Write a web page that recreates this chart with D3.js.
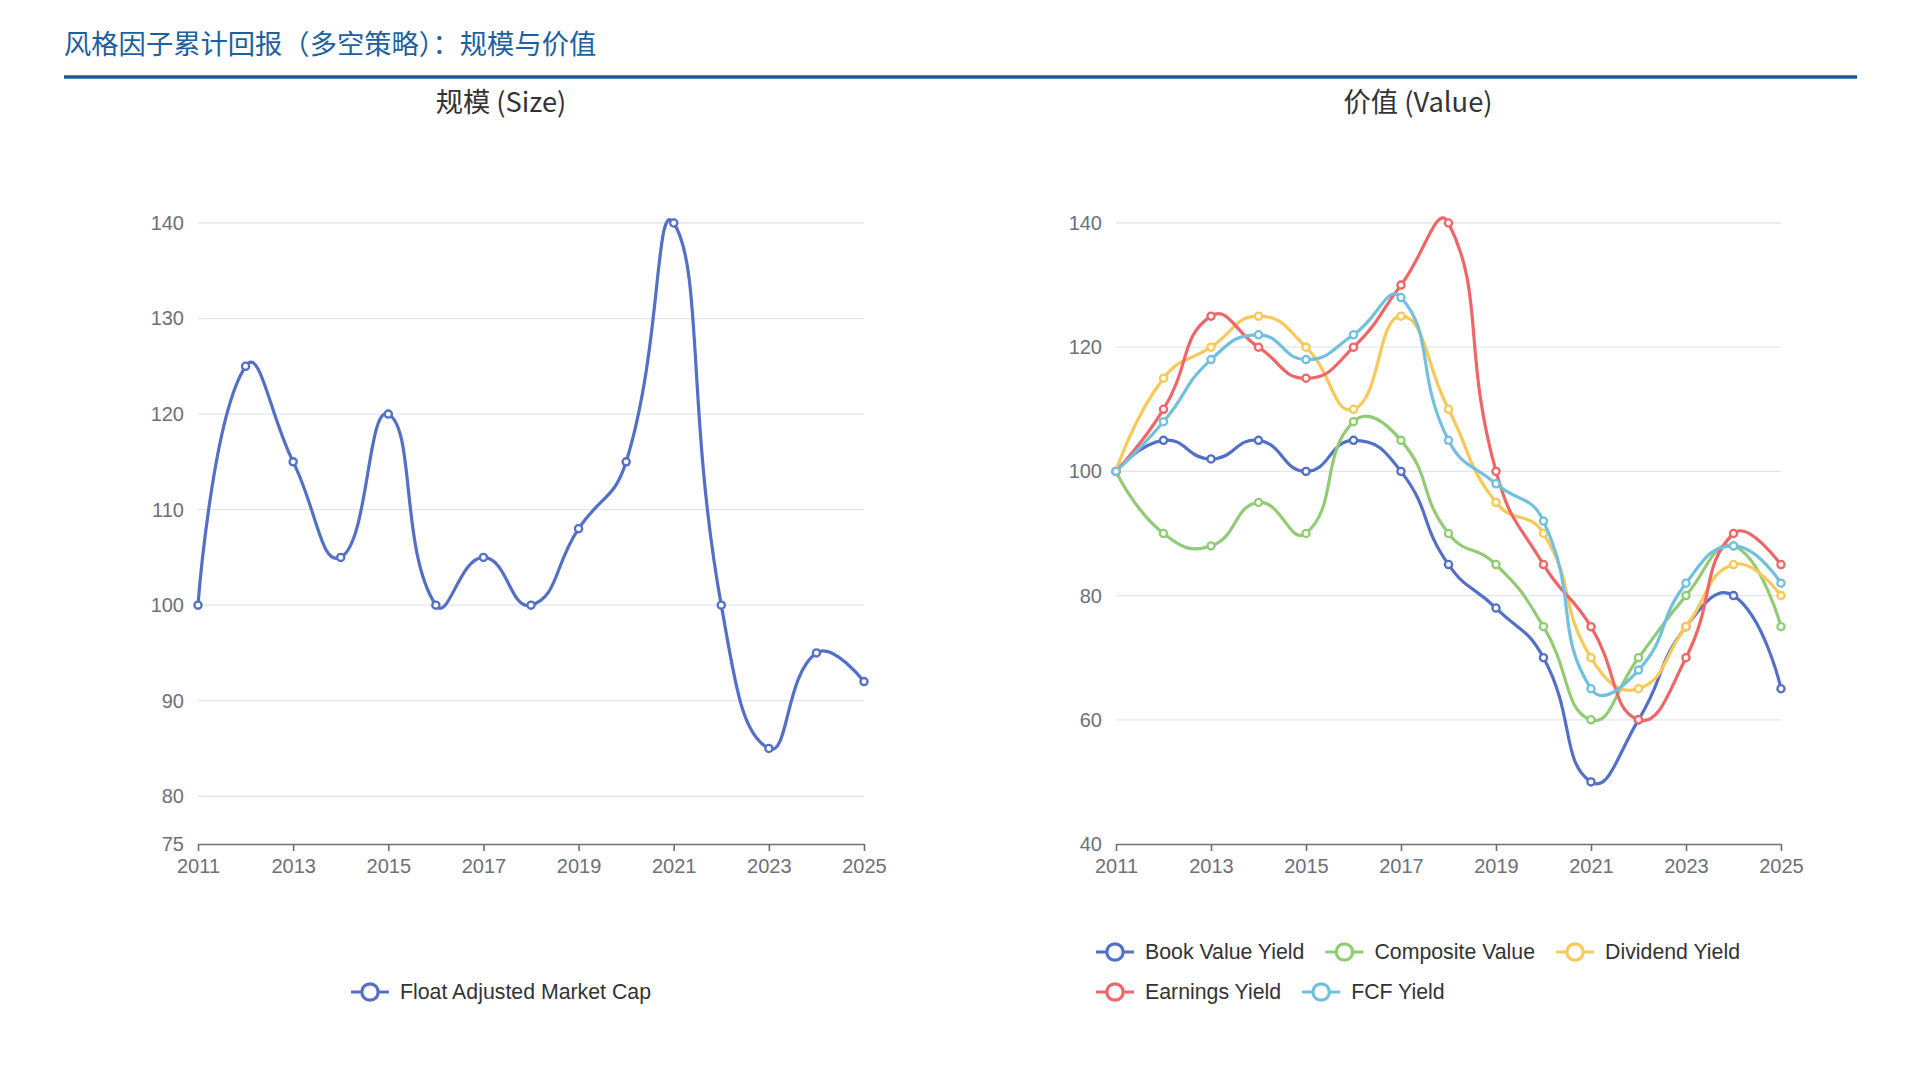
<!DOCTYPE html>
<html>
<head>
<meta charset="utf-8">
<script src="https://cdn.jsdelivr.net/npm/d3@7"></script>
<style>
  body { margin: 0; background: #fff; }
  svg { display: block; }
  text { font-family: "Liberation Sans", Arial, "Noto Sans CJK SC", sans-serif; }
  .cjk { font-family: "Noto Sans CJK SC", "Liberation Sans", sans-serif; }
</style>
</head>
<body>
<svg id="chart" width="1920" height="1080"></svg>
<script>
/* data */
var years = [2011, 2012, 2013, 2014, 2015, 2016, 2017, 2018, 2019, 2020, 2021, 2022, 2023, 2024, 2025];
var xTickYears = [2011, 2013, 2015, 2017, 2019, 2021, 2023, 2025];

var floatAdjustedMarketCap = [100, 125, 115, 105, 120, 100, 105, 100, 108, 115, 140, 100, 85, 95, 92];

var bookValueYield = [100, 105, 102, 105, 100, 105, 100, 85, 78, 70, 50, 60, 75, 80, 65];
var compositeValue = [100, 90, 88, 95, 90, 108, 105, 90, 85, 75, 60, 70, 80, 88, 75];
var dividendYield  = [100, 115, 120, 125, 120, 110, 125, 110, 95, 90, 70, 65, 75, 85, 80];
var earningsYield  = [100, 110, 125, 120, 115, 120, 130, 140, 100, 85, 75, 60, 70, 90, 85];
var fcfYield       = [100, 108, 118, 122, 118, 122, 128, 105, 98, 92, 65, 68, 82, 88, 82];

var sizeTicks  = [75, 80, 90, 100, 110, 120, 130, 140];
var valueTicks = [40, 60, 80, 100, 120, 140];

var palette = ["#5470c6", "#91cc75", "#fac858", "#ee6666", "#73c0de"];

var sizeSeries = [
  {name: "Float Adjusted Market Cap", values: floatAdjustedMarketCap, color: palette[0]}
];
var valueSeries = [
  {name: "Book Value Yield", values: bookValueYield, color: palette[0]},
  {name: "Composite Value", values: compositeValue, color: palette[1]},
  {name: "Dividend Yield", values: dividendYield, color: palette[2]},
  {name: "Earnings Yield", values: earningsYield, color: palette[3]},
  {name: "FCF Yield", values: fcfYield, color: palette[4]}
];

// smoothing the way echarts does it (smooth: true -> 0.5)
function EchartsSmooth(context) { this._context = context; }
EchartsSmooth.prototype = {
  areaStart: function() { this._line = 0; },
  areaEnd: function() { this._line = NaN; },
  lineStart: function() { this._pts = []; },
  point: function(x, y) { this._pts.push([+x, +y]); },
  lineEnd: function() {
    var p = this._pts, c = this._context, s = 0.5;
    if (!p.length) return;
    c.moveTo(p[0][0], p[0][1]);
    var cx = p[0][0], cy = p[0][1];
    for (var i = 1; i < p.length; i++) {
      var x = p[i][0], y = p[i][1], prev = p[i - 1], next = p[i + 1];
      var vx = 0, vy = 0, r = 0.5, nx = x, ny = y;
      if (next) {
        vx = next[0] - prev[0];
        vy = next[1] - prev[1];
        var l0 = Math.hypot(x - prev[0], y - prev[1]),
            l1 = Math.hypot(next[0] - x, next[1] - y);
        r = l1 / (l0 + l1);
        nx = x - vx * s * (1 - r);
        ny = y - vy * s * (1 - r);
      }
      c.bezierCurveTo(cx, cy, nx, ny, x, y);
      cx = x + vx * s * r;
      cy = y + vy * s * r;
    }
  }
};
function echartsSmooth(context) { return new EchartsSmooth(context); }

var svg = d3.select("#chart");

/* header */
svg.append("text")
  .attr("class", "cjk")
  .attr("x", 64).attr("y", 42)
  .attr("dominant-baseline", "central")
  .attr("fill", "#1e5f9e")
  .style("font-size", "27.3px")
  .text("风格因子累计回报（多空策略）：规模与价值");

svg.append("line")
  .attr("x1", 64).attr("x2", 1857)
  .attr("y1", 77).attr("y2", 77)
  .attr("stroke", "#1b5a96").attr("stroke-width", 3.5);

function drawPanel(opt) {
  var g = svg.append("g");

  var x = d3.scalePoint().domain(years).range([opt.x0, opt.x1]).padding(0);
  var y = d3.scaleLinear().domain(opt.domain).range([844, 223]);

  g.append("text")
    .attr("class", "cjk")
    .attr("x", opt.center).attr("y", 100)
    .attr("text-anchor", "middle")
    .attr("dominant-baseline", "central")
    .attr("fill", "#333")
    .style("font-size", "27.3px")
    .text(opt.title);

  // grid lines
  g.append("g").selectAll("line")
    .data(opt.ticks.filter(function(d) { return d > opt.domain[0]; }))
    .enter().append("line")
    .attr("x1", opt.x0).attr("x2", opt.x1)
    .attr("y1", function(d) { return y(d); })
    .attr("y2", function(d) { return y(d); })
    .attr("stroke", "#e0e6f1").attr("stroke-width", 1.3);

  var yAxis = g.append("g")
    .attr("transform", "translate(" + opt.x0 + ",0)")
    .call(d3.axisLeft(y).tickValues(opt.ticks).tickSize(0).tickPadding(14));
  yAxis.select(".domain").remove();
  yAxis.selectAll("text")
    .attr("fill", "#6e7079")
    .style("font-size", "20px")
    .style("font-family", "'Liberation Sans', Arial, sans-serif");

  var xAxis = g.append("g")
    .attr("transform", "translate(0,844)")
    .call(d3.axisBottom(x).tickValues(xTickYears).tickSizeInner(7).tickSizeOuter(0).tickPadding(8));
  xAxis.select(".domain").attr("stroke", "#6e7079").attr("stroke-width", 1.6);
  xAxis.selectAll(".tick line").attr("stroke", "#6e7079").attr("stroke-width", 1.6);
  xAxis.selectAll("text")
    .attr("fill", "#6e7079")
    .style("font-size", "20px")
    .style("font-family", "'Liberation Sans', Arial, sans-serif");

  var line = d3.line()
    .x(function(d, i) { return x(years[i]); })
    .y(function(d) { return y(d); })
    .curve(echartsSmooth);

  opt.series.forEach(function(s) {
    var sg = g.append("g");
    sg.append("path")
      .attr("d", line(s.values))
      .attr("fill", "none")
      .attr("stroke", s.color)
      .attr("stroke-width", 3.2)
      .attr("stroke-linejoin", "round");
    sg.selectAll("circle")
      .data(s.values).enter().append("circle")
      .attr("cx", function(d, i) { return x(years[i]); })
      .attr("cy", function(d) { return y(d); })
      .attr("r", 3.6)
      .attr("fill", "#fff")
      .attr("stroke", s.color)
      .attr("stroke-width", 2.3);
  });

  // legend, wrapped into rows, centred on the panel
  var leg = g.append("g");
  var rowsG = [];
  var iconW = 38, iconGap = 11, itemGap = 21, rowH = 40;
  var maxW = 0;
  opt.legendRows.forEach(function(row) {
    var rg = leg.append("g");
    var cur = 0;
    row.forEach(function(idx) {
      var s = opt.series[idx];
      var it = rg.append("g").attr("transform", "translate(" + cur + ",0)");
      it.append("line")
        .attr("x1", 0).attr("x2", iconW)
        .attr("stroke", s.color).attr("stroke-width", 3.2);
      it.append("circle")
        .attr("cx", iconW / 2).attr("r", 8.2)
        .attr("fill", "#fff").attr("stroke", s.color).attr("stroke-width", 3.2);
      var t = it.append("text")
        .attr("x", iconW + iconGap)
        .attr("dominant-baseline", "central")
        .attr("fill", "#333")
        .style("font-size", "21.3px")
        .text(s.name);
      cur += iconW + iconGap + t.node().getComputedTextLength() + itemGap;
    });
    cur -= itemGap;
    maxW = Math.max(maxW, cur);
    rowsG.push(rg);
  });
  var left = opt.center - maxW / 2;
  var top = opt.legendY - (opt.legendRows.length - 1) * rowH;
  rowsG.forEach(function(rg, ri) {
    rg.attr("transform", "translate(" + left + "," + (top + ri * rowH) + ")");
  });
}

drawPanel({
  title: "规模 (Size)",
  center: 501,
  x0: 198, x1: 864,
  domain: [75, 140],
  ticks: sizeTicks,
  series: sizeSeries,
  legendRows: [[0]],
  legendY: 992
});

drawPanel({
  title: "价值 (Value)",
  center: 1418,
  x0: 1116, x1: 1781,
  domain: [40, 140],
  ticks: valueTicks,
  series: valueSeries,
  legendRows: [[0, 1, 2], [3, 4]],
  legendY: 992
});
</script>
</body>
</html>
